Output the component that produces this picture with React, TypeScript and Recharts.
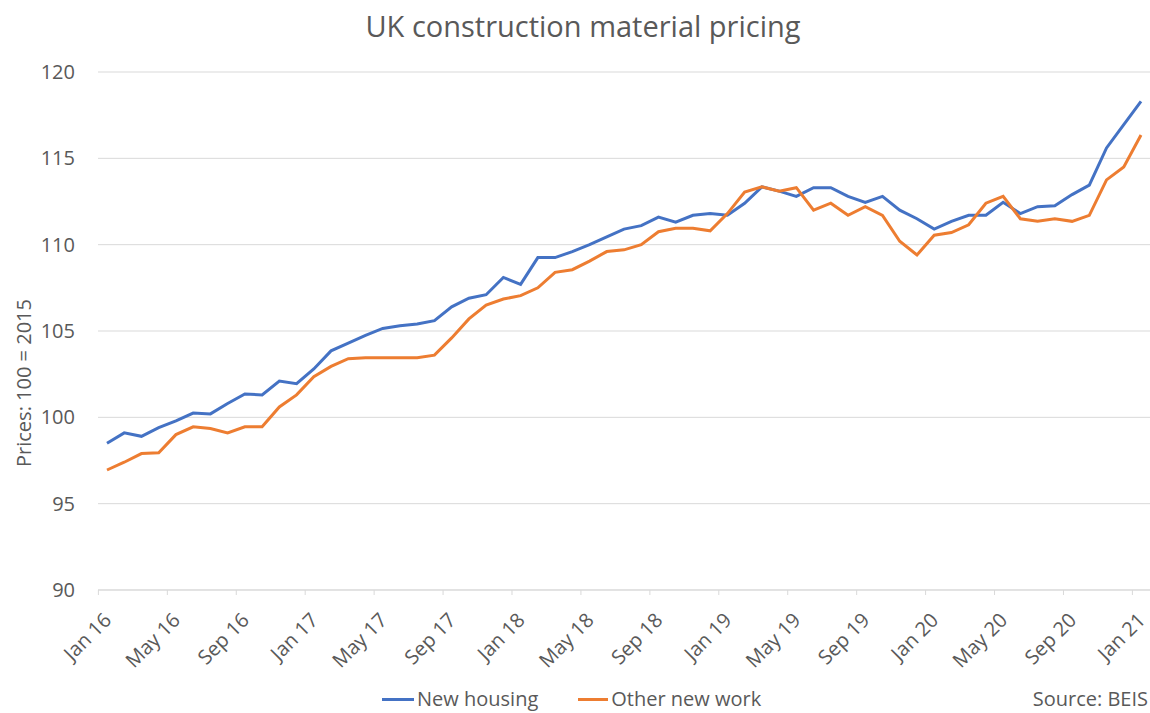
import { LineChart, Line, XAxis, YAxis, CartesianGrid } from 'recharts';

const months = [
  'Jan 16', 'Feb 16', 'Mar 16', 'Apr 16', 'May 16', 'Jun 16', 'Jul 16', 'Aug 16', 'Sep 16', 'Oct 16', 'Nov 16', 'Dec 16',
  'Jan 17', 'Feb 17', 'Mar 17', 'Apr 17', 'May 17', 'Jun 17', 'Jul 17', 'Aug 17', 'Sep 17', 'Oct 17', 'Nov 17', 'Dec 17',
  'Jan 18', 'Feb 18', 'Mar 18', 'Apr 18', 'May 18', 'Jun 18', 'Jul 18', 'Aug 18', 'Sep 18', 'Oct 18', 'Nov 18', 'Dec 18',
  'Jan 19', 'Feb 19', 'Mar 19', 'Apr 19', 'May 19', 'Jun 19', 'Jul 19', 'Aug 19', 'Sep 19', 'Oct 19', 'Nov 19', 'Dec 19',
  'Jan 20', 'Feb 20', 'Mar 20', 'Apr 20', 'May 20', 'Jun 20', 'Jul 20', 'Aug 20', 'Sep 20', 'Oct 20', 'Nov 20', 'Dec 20',
  'Jan 21',
];

const newHousing = [
  98.5, 99.1, 98.9, 99.4, 99.8, 100.25, 100.2, 100.8, 101.35, 101.3, 102.1, 101.95,
  102.8, 103.85, 104.3, 104.75, 105.15, 105.3, 105.4, 105.6, 106.4, 106.9, 107.1, 108.1,
  107.7, 109.25, 109.25, 109.6, 110.0, 110.45, 110.9, 111.1, 111.6, 111.3, 111.7, 111.8,
  111.7, 112.4, 113.35, 113.1, 112.8, 113.3, 113.3, 112.8, 112.45, 112.8, 112.0, 111.5,
  110.9, 111.35, 111.7, 111.7, 112.45, 111.8, 112.2, 112.25, 112.9, 113.45, 115.6, 116.95,
  118.3,
];

const otherNewWork = [
  96.95, 97.4, 97.9, 97.95, 99.0, 99.45, 99.35, 99.1, 99.45, 99.45, 100.6, 101.3,
  102.35, 102.95, 103.4, 103.45, 103.45, 103.45, 103.45, 103.6, 104.6, 105.7, 106.5, 106.85,
  107.05, 107.5, 108.4, 108.55, 109.05, 109.6, 109.7, 110.0, 110.75, 110.95, 110.95, 110.8,
  111.8, 113.05, 113.35, 113.1, 113.3, 112.0, 112.4, 111.7, 112.2, 111.7, 110.2, 109.4,
  110.55, 110.7, 111.15, 112.4, 112.8, 111.5, 111.35, 111.5, 111.35, 111.7, 113.75, 114.5,
  116.35,
];

const yTicks = [90, 95, 100, 105, 110, 115, 120];

const data = months.map((month, i) => ({
  month,
  newHousing: newHousing[i],
  otherNewWork: otherNewWork[i],
}));

const FONT = '"Open Sans", sans-serif';
const TEXT = '#595959';
const GRID = '#D9D9D9';

// label ends near the category centre, tick mark sits on the category boundary (Excel style)
const AngledTick = ({ x, y, payload }: any) => (
  <g transform={`translate(${x},${y})`}>
    <line x1={-8.6} x2={-8.6} y1={-7} y2={-2} stroke={GRID} />
    <g transform="translate(-3,16)">
      <text x={0} y={0} dy="0.6em" textAnchor="end" transform="rotate(-45)" fill={TEXT} fontSize={20} fontFamily={FONT}>
        {payload.value}
      </text>
    </g>
  </g>
);

export default function App() {
  return (
    <div style={{ position: 'absolute', left: 0, top: 0, width: 1150, height: 713, background: '#fff', fontFamily: FONT }}>
      <div style={{ position: 'absolute', top: 6, left: 0, width: 1166, textAlign: 'center', fontSize: 29, color: TEXT }}>
        UK construction material pricing
      </div>
      <LineChart width={1150} height={713} data={data} margin={{ top: 72, right: 0, bottom: 53, left: 38 }}>
        <CartesianGrid vertical={false} stroke={GRID} />
        <XAxis
          dataKey="month"
          interval={3}
          height={70}
          padding={{ left: 9, right: 9 }}
          axisLine={{ stroke: GRID }}
          tickLine={false}
          tickSize={5}
          tick={<AngledTick />}
        />
        <YAxis
          domain={[90, 120]}
          ticks={yTicks}
          width={60}
          axisLine={false}
          tickLine={false}
          tickMargin={17}
          tick={{ fill: TEXT, fontSize: 20, fontFamily: FONT }}
        />
        <Line type="linear" dataKey="newHousing" stroke="#4472C4" strokeWidth={3} dot={false} isAnimationActive={false} />
        <Line type="linear" dataKey="otherNewWork" stroke="#ED7D31" strokeWidth={3} dot={false} isAnimationActive={false} />
      </LineChart>
      <div
        style={{
          position: 'absolute',
          left: 23,
          top: 383,
          transform: 'translate(-50%, -50%) rotate(-90deg)',
          whiteSpace: 'nowrap',
          fontSize: 20,
          color: TEXT,
        }}
      >
        Prices: 100 = 2015
      </div>
      <div style={{ position: 'absolute', top: 686, left: 382, display: 'flex', alignItems: 'center', fontSize: 20, color: TEXT, lineHeight: '26px' }}>
        <span style={{ display: 'inline-block', width: 32, height: 3, background: '#4472C4', marginRight: 3 }} />
        <span>New housing</span>
        <span style={{ display: 'inline-block', width: 30, height: 3, background: '#ED7D31', marginLeft: 40, marginRight: 3 }} />
        <span>Other new work</span>
      </div>
      <div style={{ position: 'absolute', top: 686, right: 2, fontSize: 20, color: TEXT, lineHeight: '26px' }}>
        Source: BEIS
      </div>
    </div>
  );
}
